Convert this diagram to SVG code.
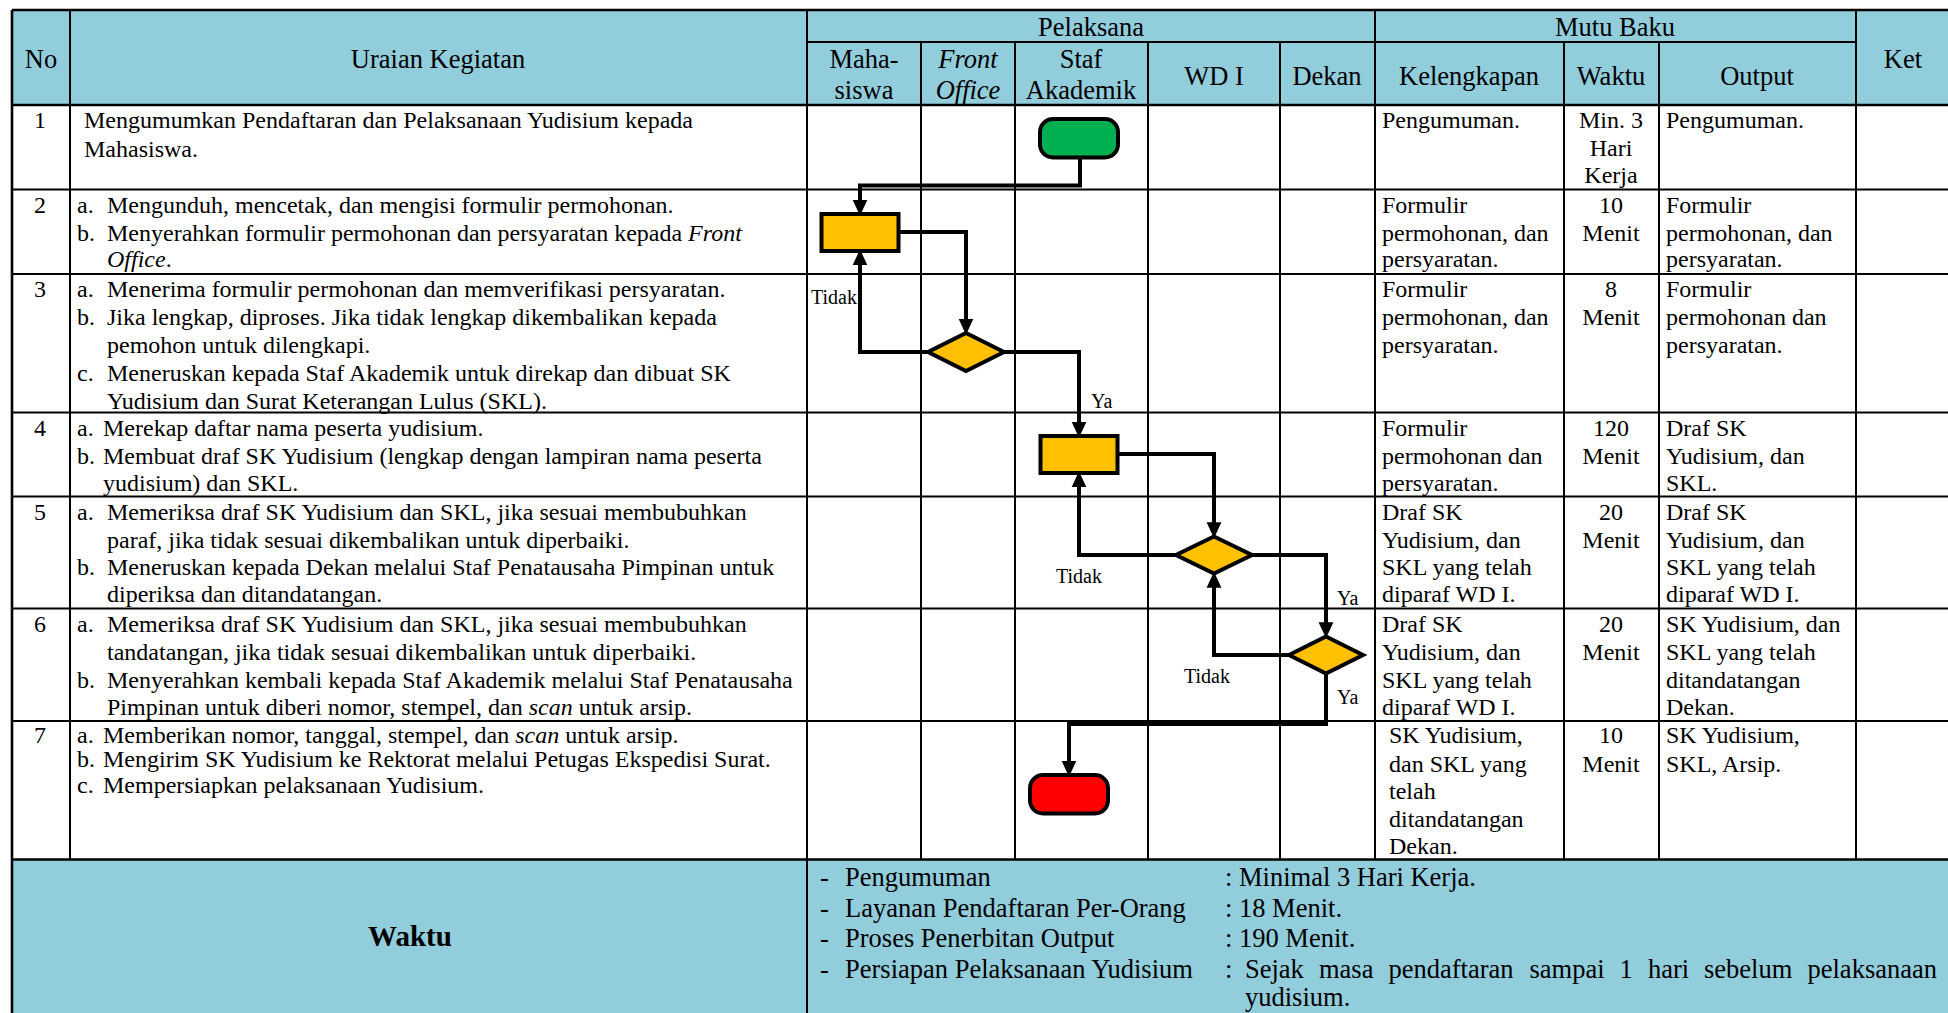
<svg xmlns="http://www.w3.org/2000/svg" width="1948" height="1013" viewBox="0 0 1948 1013">
  <style>
    text { font-family: "Liberation Serif", "Times New Roman", serif; fill: #000; }
    .b { font-size: 24px; }
    .h { font-size: 26.5px; }
    .f { font-size: 26.5px; }
    .c { text-anchor: middle; }
    .i { font-style: italic; }
    .lbl { font-size: 20px; }
    .grid { stroke: #000; stroke-width: 2; fill: none; }
    .outer { stroke: #000; stroke-width: 2.6; fill: none; }
    .conn { stroke: #000; stroke-width: 4; fill: none; stroke-linejoin: miter; marker-end: url(#arrow); }
    .proc { fill: #FFC000; stroke: #000; stroke-width: 4; }
    .dec { fill: #FFC000; stroke: #000; stroke-width: 4; stroke-linejoin: miter; }
  </style>
  <defs>
    <marker id="arrow" markerUnits="userSpaceOnUse" markerWidth="16" markerHeight="16" viewBox="0 0 14 14" refX="2" refY="7" orient="auto">
      <path d="M0,0.5 L14,7 L0,13.5 Z" fill="#000"/>
    </marker>
  </defs>

  <rect x="0" y="0" width="1948" height="1013" fill="#fff"/>

  <!-- header and footer fills -->
  <rect x="12" y="10" width="1940" height="95" fill="#92CDDC"/>
  <rect x="12" y="859.5" width="1940" height="160" fill="#92CDDC"/>

  <!-- table grid -->
  <g id="table-grid">
    <line class="outer" x1="12" y1="10" x2="1950" y2="10"/>
    <line class="outer" x1="12" y1="10" x2="12" y2="1013"/>
    <line class="grid" x1="807" y1="42" x2="1856" y2="42"/>
    <line class="outer" x1="12" y1="105" x2="1950" y2="105"/>
    <line class="grid" x1="12" y1="189.5" x2="1950" y2="189.5"/>
    <line class="grid" x1="12" y1="274" x2="1950" y2="274"/>
    <line class="grid" x1="12" y1="412.5" x2="1950" y2="412.5"/>
    <line class="grid" x1="12" y1="496.5" x2="1950" y2="496.5"/>
    <line class="grid" x1="12" y1="608.5" x2="1950" y2="608.5"/>
    <line class="grid" x1="12" y1="721" x2="1950" y2="721"/>
    <line class="outer" x1="12" y1="859.5" x2="1950" y2="859.5"/>
    <!-- full height columns -->
    <line class="grid" x1="70" y1="10" x2="70" y2="859.5"/>
    <line class="grid" x1="807" y1="10" x2="807" y2="1013"/>
    <line class="grid" x1="1375" y1="10" x2="1375" y2="859.5"/>
    <line class="grid" x1="1856" y1="10" x2="1856" y2="859.5"/>
    <!-- sub columns -->
    <line class="grid" x1="921" y1="42" x2="921" y2="859.5"/>
    <line class="grid" x1="1015" y1="42" x2="1015" y2="859.5"/>
    <line class="grid" x1="1148" y1="42" x2="1148" y2="859.5"/>
    <line class="grid" x1="1280" y1="42" x2="1280" y2="859.5"/>
    <line class="grid" x1="1564" y1="42" x2="1564" y2="859.5"/>
    <line class="grid" x1="1659" y1="42" x2="1659" y2="859.5"/>
  </g>

  <!-- header labels -->
  <g id="header">
    <text class="h c" x="41" y="68">No</text>
    <text class="h c" x="438" y="68">Uraian Kegiatan</text>
    <text class="h c" x="1091" y="36">Pelaksana</text>
    <text class="h c" x="1615" y="36">Mutu Baku</text>
    <text class="h c" x="1903" y="68">Ket</text>
    <text class="h c" x="864" y="68">Maha-</text>
    <text class="h c" x="864" y="99">siswa</text>
    <text class="h c i" x="968" y="68">Front</text>
    <text class="h c i" x="968" y="99">Office</text>
    <text class="h c" x="1081" y="68">Staf</text>
    <text class="h c" x="1081" y="99">Akademik</text>
    <text class="h c" x="1214" y="85">WD I</text>
    <text class="h c" x="1327" y="85">Dekan</text>
    <text class="h c" x="1469" y="85">Kelengkapan</text>
    <text class="h c" x="1611" y="85">Waktu</text>
    <text class="h c" x="1757" y="85">Output</text>
  </g>

  <!-- activity rows -->
  <g id="row-1">
    <text class="b c" x="40" y="128">1</text>
    <text class="b" x="84" y="128">Mengumumkan Pendaftaran dan Pelaksanaan Yudisium kepada</text>
    <text class="b" x="84" y="156.5">Mahasiswa.</text>
    <text class="b" x="1382" y="128">Pengumuman.</text>
    <text class="b c" x="1611" y="128">Min. 3</text>
    <text class="b c" x="1611" y="156">Hari</text>
    <text class="b c" x="1611" y="183">Kerja</text>
    <text class="b" x="1666" y="128">Pengumuman.</text>
  </g>
  <g id="row-2">
    <text class="b c" x="40" y="213">2</text>
    <text class="b" x="77" y="213">a.</text>
    <text class="b" x="107" y="213">Mengunduh, mencetak, dan mengisi formulir permohonan.</text>
    <text class="b" x="77" y="240.5">b.</text>
    <text class="b" x="107" y="240.5">Menyerahkan formulir permohonan dan persyaratan kepada <tspan class="i">Front</tspan></text>
    <text class="b" x="107" y="267"><tspan class="i">Office</tspan>.</text>
    <text class="b" x="1382" y="213">Formulir</text>
    <text class="b" x="1382" y="240.5">permohonan, dan</text>
    <text class="b" x="1382" y="267">persyaratan.</text>
    <text class="b c" x="1611" y="213">10</text>
    <text class="b c" x="1611" y="240.5">Menit</text>
    <text class="b" x="1666" y="213">Formulir</text>
    <text class="b" x="1666" y="240.5">permohonan, dan</text>
    <text class="b" x="1666" y="267">persyaratan.</text>
  </g>
  <g id="row-3">
    <text class="b c" x="40" y="296.5">3</text>
    <text class="b" x="77" y="296.5">a.</text>
    <text class="b" x="107" y="296.5">Menerima formulir permohonan dan memverifikasi persyaratan.</text>
    <text class="b" x="77" y="324.5">b.</text>
    <text class="b" x="107" y="324.5">Jika lengkap, diproses. Jika tidak lengkap dikembalikan kepada</text>
    <text class="b" x="107" y="352.5">pemohon untuk dilengkapi.</text>
    <text class="b" x="77" y="380.5">c.</text>
    <text class="b" x="107" y="380.5">Meneruskan kepada Staf Akademik untuk direkap dan dibuat SK</text>
    <text class="b" x="107" y="408.5">Yudisium dan Surat Keterangan Lulus (SKL).</text>
    <text class="b" x="1382" y="296.5">Formulir</text>
    <text class="b" x="1382" y="324.5">permohonan, dan</text>
    <text class="b" x="1382" y="352.5">persyaratan.</text>
    <text class="b c" x="1611" y="296.5">8</text>
    <text class="b c" x="1611" y="324.5">Menit</text>
    <text class="b" x="1666" y="296.5">Formulir</text>
    <text class="b" x="1666" y="324.5">permohonan dan</text>
    <text class="b" x="1666" y="352.5">persyaratan.</text>
  </g>
  <g id="row-4">
    <text class="b c" x="40" y="436">4</text>
    <text class="b" x="77" y="436">a.</text>
    <text class="b" x="103" y="436">Merekap daftar nama peserta yudisium.</text>
    <text class="b" x="77" y="464">b.</text>
    <text class="b" x="103" y="464">Membuat draf SK Yudisium (lengkap dengan lampiran nama peserta</text>
    <text class="b" x="103" y="491">yudisium) dan SKL.</text>
    <text class="b" x="1382" y="436">Formulir</text>
    <text class="b" x="1382" y="464">permohonan dan</text>
    <text class="b" x="1382" y="491">persyaratan.</text>
    <text class="b c" x="1611" y="436">120</text>
    <text class="b c" x="1611" y="464">Menit</text>
    <text class="b" x="1666" y="436">Draf SK</text>
    <text class="b" x="1666" y="464">Yudisium, dan</text>
    <text class="b" x="1666" y="491">SKL.</text>
  </g>
  <g id="row-5">
    <text class="b c" x="40" y="520">5</text>
    <text class="b" x="77" y="520">a.</text>
    <text class="b" x="107" y="520">Memeriksa draf SK Yudisium dan SKL, jika sesuai membubuhkan</text>
    <text class="b" x="107" y="547.5">paraf, jika tidak sesuai dikembalikan untuk diperbaiki.</text>
    <text class="b" x="77" y="575">b.</text>
    <text class="b" x="107" y="575">Meneruskan kepada Dekan melalui Staf Penatausaha Pimpinan untuk</text>
    <text class="b" x="107" y="602">diperiksa dan ditandatangan.</text>
    <text class="b" x="1382" y="520">Draf SK</text>
    <text class="b" x="1382" y="547.5">Yudisium, dan</text>
    <text class="b" x="1382" y="575">SKL yang telah</text>
    <text class="b" x="1382" y="602">diparaf WD I.</text>
    <text class="b c" x="1611" y="520">20</text>
    <text class="b c" x="1611" y="547.5">Menit</text>
    <text class="b" x="1666" y="520">Draf SK</text>
    <text class="b" x="1666" y="547.5">Yudisium, dan</text>
    <text class="b" x="1666" y="575">SKL yang telah</text>
    <text class="b" x="1666" y="602">diparaf WD I.</text>
  </g>
  <g id="row-6">
    <text class="b c" x="40" y="631.5">6</text>
    <text class="b" x="77" y="631.5">a.</text>
    <text class="b" x="107" y="631.5">Memeriksa draf SK Yudisium dan SKL, jika sesuai membubuhkan</text>
    <text class="b" x="107" y="660">tandatangan, jika tidak sesuai dikembalikan untuk diperbaiki.</text>
    <text class="b" x="77" y="688">b.</text>
    <text class="b" x="107" y="688">Menyerahkan kembali kepada Staf Akademik melalui Staf Penatausaha</text>
    <text class="b" x="107" y="715">Pimpinan untuk diberi nomor, stempel, dan <tspan class="i">scan</tspan> untuk arsip.</text>
    <text class="b" x="1382" y="631.5">Draf SK</text>
    <text class="b" x="1382" y="660">Yudisium, dan</text>
    <text class="b" x="1382" y="688">SKL yang telah</text>
    <text class="b" x="1382" y="715">diparaf WD I.</text>
    <text class="b c" x="1611" y="631.5">20</text>
    <text class="b c" x="1611" y="660">Menit</text>
    <text class="b" x="1666" y="631.5">SK Yudisium, dan</text>
    <text class="b" x="1666" y="660">SKL yang telah</text>
    <text class="b" x="1666" y="688">ditandatangan</text>
    <text class="b" x="1666" y="715">Dekan.</text>
  </g>
  <g id="row-7">
    <text class="b c" x="40" y="743">7</text>
    <text class="b" x="77" y="743">a.</text>
    <text class="b" x="103" y="743">Memberikan nomor, tanggal, stempel, dan <tspan class="i">scan</tspan> untuk arsip.</text>
    <text class="b" x="77" y="767">b.</text>
    <text class="b" x="103" y="767">Mengirim SK Yudisium ke Rektorat melalui Petugas Ekspedisi Surat.</text>
    <text class="b" x="77" y="793">c.</text>
    <text class="b" x="103" y="793">Mempersiapkan pelaksanaan Yudisium.</text>
    <text class="b" x="1389" y="743">SK Yudisium,</text>
    <text class="b" x="1389" y="771.5">dan SKL yang</text>
    <text class="b" x="1389" y="799">telah</text>
    <text class="b" x="1389" y="827">ditandatangan</text>
    <text class="b" x="1389" y="854">Dekan.</text>
    <text class="b c" x="1611" y="743">10</text>
    <text class="b c" x="1611" y="771.5">Menit</text>
    <text class="b" x="1666" y="743">SK Yudisium,</text>
    <text class="b" x="1666" y="771.5">SKL, Arsip.</text>
  </g>

  <!-- flowchart nodes -->
  <g id="start">
    <rect x="1040" y="119" width="78" height="38.5" rx="13" ry="13" fill="#00B050" stroke="#000" stroke-width="4"/>
  </g>
  <g id="step-2-process">
    <rect class="proc" x="821.5" y="214" width="77" height="37"/>
  </g>
  <g id="step-3-decision">
    <polygon class="dec" points="966,333 1004,352 966,371 928,352"/>
  </g>
  <g id="step-4-process">
    <rect class="proc" x="1040.5" y="436" width="77" height="37"/>
  </g>
  <g id="step-5-decision">
    <polygon class="dec" points="1214,536.5 1252,555 1214,573.5 1176,555"/>
  </g>
  <g id="step-6-decision">
    <polygon class="dec" points="1326,636.5 1363,655 1326,673.5 1289,655"/>
  </g>
  <g id="end">
    <rect x="1030" y="775" width="78" height="38.5" rx="13" ry="13" fill="#FF0000" stroke="#000" stroke-width="4"/>
  </g>

  <!-- connectors -->
  <g id="connectors">
    <polyline class="conn" points="1080,157 1080,185.5 860,185.5 860,202"/>
    <polyline class="conn" points="898.5,232 966,232 966,321"/>
    <polyline class="conn" points="928,352 860,352 860,263"/>
    <polyline class="conn" points="1004,352 1079,352 1079,424"/>
    <polyline class="conn" points="1117.5,454 1214,454 1214,524.5"/>
    <polyline class="conn" points="1176,555 1079,555 1079,485"/>
    <polyline class="conn" points="1252,555 1326,555 1326,624.5"/>
    <polyline class="conn" points="1289,655 1214,655 1214,585.5"/>
    <polyline class="conn" points="1326,673.5 1326,724 1069,724 1069,763"/>
    <text class="lbl" x="811" y="304">Tidak</text>
    <text class="lbl" x="1091" y="408">Ya</text>
    <text class="lbl" x="1056" y="583">Tidak</text>
    <text class="lbl" x="1337" y="604.5">Ya</text>
    <text class="lbl" x="1184" y="683">Tidak</text>
    <text class="lbl" x="1337" y="704">Ya</text>
  </g>

  <!-- footer: time summary -->
  <g id="footer">
    <text x="410" y="946" style="font-size:29px;font-weight:bold" text-anchor="middle">Waktu</text>
    <text class="f" x="820" y="886">-</text>
    <text class="f" x="845" y="886">Pengumuman</text>
    <text class="f" x="1225" y="886">: Minimal 3 Hari Kerja.</text>
    <text class="f" x="820" y="916.5">-</text>
    <text class="f" x="845" y="916.5">Layanan Pendaftaran Per-Orang</text>
    <text class="f" x="1225" y="916.5">: 18 Menit.</text>
    <text class="f" x="820" y="947">-</text>
    <text class="f" x="845" y="947">Proses Penerbitan Output</text>
    <text class="f" x="1225" y="947">: 190 Menit.</text>
    <text class="f" x="820" y="977.5">-</text>
    <text class="f" x="845" y="977.5">Persiapan Pelaksanaan Yudisium</text>
    <text class="f" y="977.5"><tspan x="1225">:</tspan><tspan x="1245">Sejak</tspan><tspan x="1319">masa</tspan><tspan x="1388.5">pendaftaran</tspan><tspan x="1529.5">sampai</tspan><tspan x="1619.6">1</tspan><tspan x="1648">hari</tspan><tspan x="1704">sebelum</tspan><tspan x="1807.5">pelaksanaan</tspan></text>
    <text class="f" x="1245" y="1006">yudisium.</text>
  </g>
</svg>
